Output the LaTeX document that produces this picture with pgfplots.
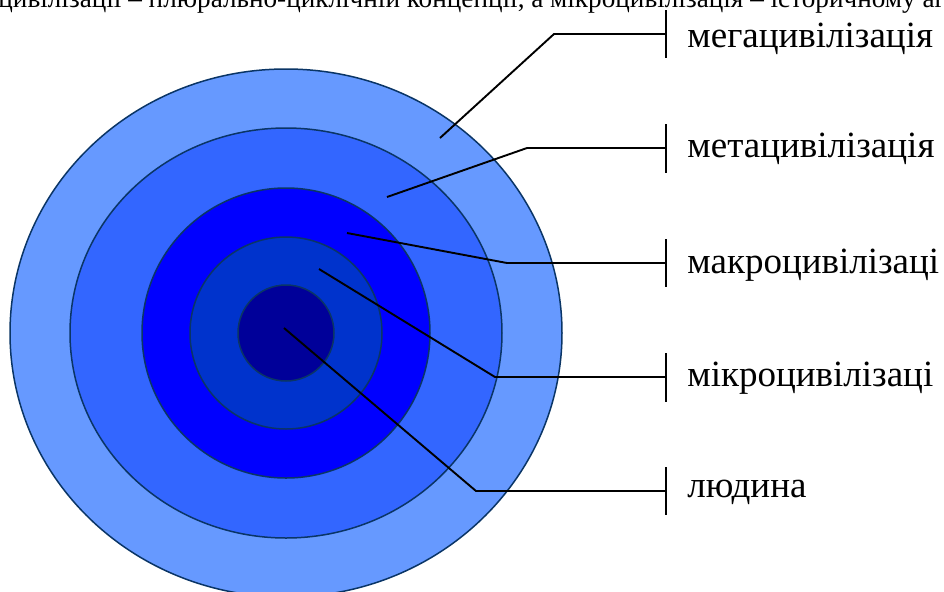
\documentclass[border=0pt]{standalone}
\usepackage{fontspec}
\setmainfont{Liberation Serif}
\usepackage{pgfplots}
\pgfplotsset{compat=1.18}

\definecolor{ring1}{HTML}{6699FF}
\definecolor{ring2}{HTML}{3366FF}
\definecolor{ring3}{HTML}{0000FF}
\definecolor{ring4}{HTML}{0033CC}
\definecolor{ring5}{HTML}{000099}
\definecolor{rim}{HTML}{0A3566}

\begin{document}
\begin{tikzpicture}
  \useasboundingbox (0,0) rectangle (472pt,295.5pt);
  \clip (0,0) rectangle (472pt,295.5pt);
  \begin{axis}[
    at={(0,0)}, anchor=south west,
    width=472pt, height=295.5pt, scale only axis,
    hide axis, xmin=0, xmax=944, ymin=0, ymax=591, y dir=reverse,
    clip=false]
    % rings, outer to inner
    \filldraw[fill=ring1, draw=rim, line width=0.75pt] (axis cs:286,333) ellipse [x radius=276, y radius=264];
    \filldraw[fill=ring2, draw=rim, line width=0.75pt] (axis cs:286,333) ellipse [x radius=216, y radius=205];
    \filldraw[fill=ring3, draw=rim, line width=0.75pt] (axis cs:286,333) ellipse [x radius=144, y radius=145];
    \filldraw[fill=ring4, draw=rim, line width=0.75pt] (axis cs:286,333) ellipse [x radius=96, y radius=96];
    \filldraw[fill=ring5, draw=rim, line width=0.75pt] (axis cs:286,333) ellipse [x radius=48, y radius=48];

    % leader lines
    \addplot[black, line width=0.95pt] coordinates {(440,138) (554,34) (666,34)};
    \addplot[black, line width=0.95pt] coordinates {(387,197) (527,148) (666,148)};
    \addplot[black, line width=0.95pt] coordinates {(347,233) (507,263) (666,263)};
    \addplot[black, line width=0.95pt] coordinates {(319,269) (495,377) (666,377)};
    \addplot[black, line width=0.95pt] coordinates {(284,328) (476,491) (666,491)};

    % label ticks
    \addplot[black, line width=0.95pt] coordinates {(666,10) (666,58)};
    \addplot[black, line width=0.95pt] coordinates {(666,124) (666,173)};
    \addplot[black, line width=0.95pt] coordinates {(666,239) (666,287)};
    \addplot[black, line width=0.95pt] coordinates {(666,353) (666,402)};
    \addplot[black, line width=0.95pt] coordinates {(666,467) (666,515)};

    \tikzset{lbl/.style={anchor=base west, inner sep=0pt, font=\fontsize{18.5}{22}\selectfont}}
    \node[lbl] at (axis cs:687,47) {мегацивілізація};
    \node[lbl] at (axis cs:687,157) {метацивілізація};
    \node[lbl] at (axis cs:687,273) {макроцивілізаці};
    \node[lbl] at (axis cs:687,386) {мікроцивілізаці};
    \node[lbl] at (axis cs:687,497) {людина};

    \node[anchor=base west, inner sep=0pt, font=\fontsize{13.6}{16}\selectfont]
      at (axis cs:-2,7.5) {цивілізації – плюрально-циклічній концепції, а мікроцивілізація – історичному аг};
  \end{axis}
\end{tikzpicture}
\end{document}
